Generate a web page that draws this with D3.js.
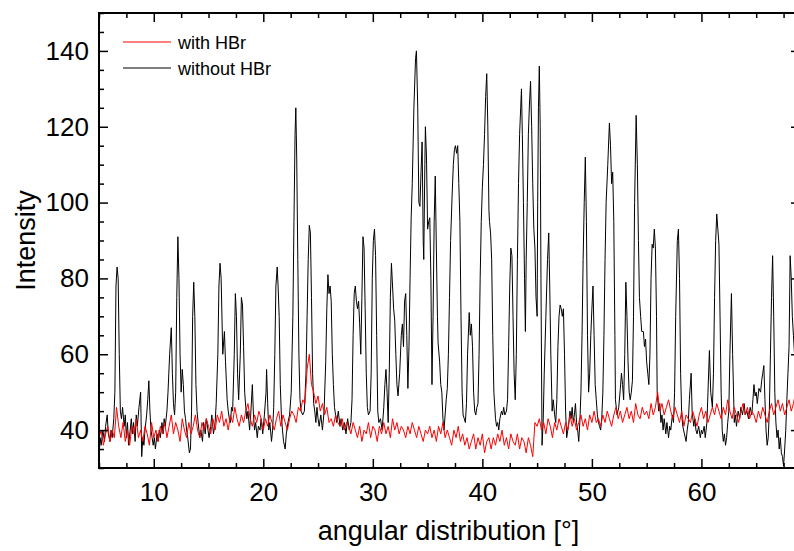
<!DOCTYPE html>
<html>
<head>
<meta charset="utf-8">
<script src="https://cdn.jsdelivr.net/npm/d3@7"></script>
<style>
  body { margin: 0; background: #fff; }
  svg { display: block; font-family: "Liberation Sans", Arial, sans-serif; }
</style>
</head>
<body>
<script>
// x range and axis ticks
let xDomain = [5, 69];
let yDomain = [30, 150];
let xMajor = [10, 20, 30, 40, 50, 60];
let yMajor = [40, 60, 80, 100, 120, 140];

// "with HBr" series, sampled every 0.2 deg from 5 deg
let withStart = 5, withStep = 0.2;
let withHBr = [
  38,40,36,39,41,37,40,38,46,41,
  38,42,37,40,36,41,39,43,38,40,
  37,41,39,36,42,38,40,37,41,39,
  42,38,41,44,39,42,40,37,43,40,
  38,42,39,41,44,40,38,42,40,43,
  41,39,43,40,44,42,45,41,43,40,
  44,42,46,43,41,44,42,45,47,43,
  41,44,42,45,43,40,43,41,44,42,
  40,43,45,41,44,42,40,43,45,44,
  42,46,45,48,47,56,60,52,50,47,
  49,45,47,44,46,42,43,41,44,42,
  41,43,40,42,41,39,42,40,38,41,
  37,40,39,42,38,41,40,37,41,39,
  42,39,41,38,43,40,42,39,41,40,
  38,41,39,42,40,38,41,39,37,40,
  39,41,38,40,37,41,39,42,38,40,
  38,36,40,38,41,37,39,36,38,35,
  37,39,35,38,36,39,34,37,38,35,
  38,36,39,37,40,36,38,35,39,37,
  36,39,35,38,37,34,38,36,33,42,
  41,43,40,42,39,43,41,38,42,40,
  43,41,39,42,40,44,41,43,40,42,
  44,41,43,40,44,42,45,42,43,41,
  44,42,45,43,41,44,46,43,45,42,
  44,46,43,45,42,47,44,43,46,44,
  45,43,47,44,46,50,45,47,44,46,
  48,45,43,46,44,42,45,41,44,43,
  42,45,43,41,44,46,43,45,42,44,
  46,44,47,45,43,46,44,48,45,43,
  46,44,42,45,47,44,46,43,45,44,
  42,45,43,46,44,42,45,47,44,46,
  48,45,47,44,46,48,45,47,50,48,
  46
];

// "without HBr" series, [angle, intensity]
let withoutHBr = [
  [5.0,32],[5.1,38],[5.2,36],[5.35,40],[5.5,37],[5.6,41],[5.75,44],[5.85,39],[6.0,37],[6.1,40],
  [6.2,38],[6.35,43],[6.45,50],[6.55,78],[6.65,83],[6.75,80],[6.85,60],[6.95,45],[7.05,43],[7.15,46],
  [7.3,41],[7.4,44],[7.5,38],[7.6,42],[7.7,36],[7.85,40],[7.95,43],[8.05,39],[8.15,42],[8.3,37],
  [8.4,44],[8.5,41],[8.65,46],[8.8,50],[8.9,33],[9.0,38],[9.1,36],[9.2,40],[9.35,44],[9.45,48],
  [9.55,53],[9.65,45],[9.75,40],[9.85,38],[9.95,36],[10.05,38],[10.15,35],[10.3,39],[10.4,37],[10.5,40],
  [10.6,38],[10.75,42],[10.85,39],[10.95,43],[11.05,41],[11.2,45],[11.3,50],[11.45,60],[11.6,67],[11.7,55],
  [11.8,47],[11.9,44],[12.0,50],[12.1,75],[12.2,91],[12.3,80],[12.4,60],[12.5,50],[12.6,56],[12.7,52],
  [12.8,45],[12.9,43],[13.0,40],[13.1,38],[13.25,34],[13.35,35],[13.45,45],[13.55,70],[13.65,79],[13.75,70],
  [13.85,52],[13.95,45],[14.05,42],[14.2,38],[14.3,40],[14.45,37],[14.55,42],[14.7,39],[14.8,43],[14.95,40],
  [15.05,38],[15.2,41],[15.3,44],[15.45,39],[15.6,42],[15.7,47],[15.85,60],[15.95,78],[16.05,84],[16.15,80],
  [16.3,60],[16.45,66],[16.55,58],[16.7,48],[16.8,45],[16.9,43],[17.0,42],[17.1,46],[17.2,45],[17.35,60],
  [17.45,76],[17.55,70],[17.65,55],[17.75,48],[17.9,60],[18.0,75],[18.1,73],[18.2,62],[18.3,50],[18.4,46],
  [18.5,43],[18.6,45],[18.75,40],[18.85,44],[19.0,52],[19.1,44],[19.2,40],[19.3,42],[19.45,38],[19.55,41],
  [19.7,40],[19.8,43],[19.95,39],[20.1,44],[20.25,50],[20.3,56],[20.4,47],[20.5,40],[20.6,42],[20.75,37],
  [20.85,40],[20.95,46],[21.05,60],[21.15,78],[21.27,83],[21.35,78],[21.45,70],[21.55,52],[21.65,44],[21.75,40],
  [21.85,37],[22.0,35],[22.1,39],[22.25,42],[22.4,44],[22.55,50],[22.7,70],[22.8,95],[22.9,118],[22.97,125],
  [23.05,112],[23.15,85],[23.25,60],[23.35,48],[23.45,45],[23.6,44],[23.75,45],[23.9,55],[24.0,70],[24.1,85],
  [24.2,94],[24.3,92],[24.4,75],[24.5,55],[24.6,47],[24.7,45],[24.8,42],[24.9,46],[25.0,43],[25.1,41],
  [25.25,44],[25.4,40],[25.55,45],[25.7,58],[25.8,72],[25.9,81],[26.0,76],[26.1,78],[26.2,74],[26.3,60],
  [26.4,52],[26.5,46],[26.6,44],[26.7,42],[26.85,45],[27.0,41],[27.1,43],[27.25,40],[27.4,42],[27.55,39],
  [27.7,43],[27.85,40],[28.0,42],[28.1,48],[28.2,65],[28.3,76],[28.4,78],[28.5,74],[28.6,72],[28.7,74],
  [28.8,68],[28.9,60],[29.0,75],[29.1,91],[29.2,88],[29.3,72],[29.4,55],[29.5,46],[29.6,44],[29.75,45],
  [29.85,55],[29.95,80],[30.05,90],[30.15,93],[30.25,86],[30.35,65],[30.45,45],[30.55,42],[30.7,43],[30.85,40],
  [31.0,46],[31.1,52],[31.2,56],[31.3,50],[31.4,42],[31.5,55],[31.6,75],[31.7,84],[31.8,78],[31.9,72],
  [32.0,69],[32.1,60],[32.2,52],[32.3,49],[32.45,55],[32.6,65],[32.7,68],[32.8,62],[32.9,74],[33.0,76],
  [33.1,65],[33.2,51],[33.3,62],[33.4,80],[33.5,96],[33.6,105],[33.75,125],[33.9,138],[33.98,140],[34.1,125],
  [34.2,100],[34.3,99],[34.4,108],[34.5,116],[34.6,90],[34.65,85],[34.75,110],[34.8,120],[34.9,112],[35.0,93],
  [35.1,95],[35.2,96],[35.3,80],[35.4,52],[35.5,70],[35.6,95],[35.7,107],[35.8,88],[35.9,70],[35.96,63],
  [36.1,58],[36.2,52],[36.3,50],[36.4,43],[36.5,40],[36.6,44],[36.7,48],[36.8,51],[36.9,60],[37.0,75],
  [37.1,90],[37.24,102],[37.35,110],[37.45,114],[37.54,115],[37.65,113],[37.75,115],[37.85,105],[37.95,95],[38.05,70],
  [38.15,50],[38.24,44],[38.35,43],[38.45,42],[38.55,47],[38.65,60],[38.8,71],[38.9,65],[39.0,68],[39.1,62],
  [39.2,50],[39.3,45],[39.4,44],[39.5,46],[39.6,47],[39.7,60],[39.8,80],[39.9,95],[40.0,104],[40.1,110],
  [40.2,118],[40.3,128],[40.4,134],[40.5,120],[40.6,98],[40.65,95],[40.75,92],[40.85,85],[40.95,65],[41.05,50],
  [41.2,43],[41.3,41],[41.4,42],[41.5,40],[41.6,43],[41.75,45],[41.85,44],[41.95,46],[42.05,44],[42.2,45],
  [42.3,48],[42.4,62],[42.5,78],[42.6,88],[42.7,86],[42.8,70],[42.9,55],[43.0,48],[43.1,60],[43.2,85],
  [43.3,105],[43.4,118],[43.5,125],[43.57,130],[43.65,118],[43.75,100],[43.85,80],[43.93,66],[44.0,85],[44.1,100],
  [44.2,118],[44.3,126],[44.4,132],[44.5,120],[44.6,105],[44.7,93],[44.8,88],[44.9,75],[45.0,70],[45.05,100],
  [45.12,125],[45.2,136],[45.28,120],[45.35,80],[45.45,36],[45.55,42],[45.65,55],[45.8,70],[45.95,85],[46.06,92],
  [46.15,78],[46.25,60],[46.37,45],[46.47,48],[46.6,44],[46.7,42],[46.8,48],[46.9,62],[47.0,70],[47.1,73],
  [47.2,72],[47.3,70],[47.4,72],[47.5,60],[47.6,45],[47.7,38],[47.8,40],[47.9,42],[48.0,45],[48.1,43],
  [48.2,46],[48.3,42],[48.4,44],[48.5,47],[48.6,42],[48.7,40],[48.8,37],[48.9,42],[49.0,50],[49.1,65],
  [49.2,85],[49.3,100],[49.4,112],[49.5,95],[49.6,65],[49.7,50],[49.8,55],[49.9,65],[50.0,72],[50.1,78],
  [50.2,65],[50.3,52],[50.4,48],[50.5,44],[50.6,42],[50.7,41],[50.8,40],[50.9,43],[51.0,50],[51.1,65],
  [51.2,85],[51.3,100],[51.45,110],[51.6,121],[51.7,115],[51.8,105],[51.9,108],[52.0,95],[52.1,65],[52.15,48],
  [52.3,44],[52.45,46],[52.6,51],[52.7,55],[52.8,52],[52.9,48],[53.0,60],[53.1,79],[53.2,70],[53.3,58],
  [53.4,50],[53.5,48],[53.6,50],[53.7,53],[53.8,70],[53.9,100],[54.04,123],[54.15,110],[54.25,90],[54.34,75],
  [54.45,70],[54.55,66],[54.7,66],[54.8,62],[54.9,64],[55.0,58],[55.1,55],[55.2,52],[55.3,60],[55.4,80],
  [55.5,89],[55.6,88],[55.7,93],[55.8,88],[55.9,70],[55.96,50],[56.1,45],[56.2,47],[56.3,42],[56.4,44],
  [56.5,40],[56.6,43],[56.75,39],[56.85,42],[57.0,38],[57.1,41],[57.2,40],[57.35,44],[57.45,42],[57.55,50],
  [57.65,70],[57.8,90],[57.9,93],[58.0,80],[58.1,55],[58.2,44],[58.3,41],[58.45,39],[58.6,37],[58.7,40],
  [58.8,42],[58.9,48],[59.06,55],[59.15,45],[59.3,41],[59.4,43],[59.5,40],[59.6,39],[59.75,41],[59.9,38],
  [60.0,40],[60.1,39],[60.25,41],[60.35,38],[60.5,42],[60.6,50],[60.73,61],[60.85,50],[61.0,46],[61.1,55],
  [61.2,75],[61.3,90],[61.4,97],[61.5,93],[61.6,89],[61.7,70],[61.8,50],[61.9,40],[62.0,37],[62.1,39],
  [62.2,36],[62.3,38],[62.4,42],[62.5,45],[62.6,60],[62.74,76],[62.85,60],[63.0,42],[63.1,44],[63.2,41],
  [63.35,45],[63.5,43],[63.6,46],[63.75,44],[63.9,47],[64.0,44],[64.15,45],[64.3,43],[64.45,46],[64.6,44],
  [64.7,48],[64.8,52],[64.9,49],[65.0,50],[65.1,47],[65.25,51],[65.4,50],[65.5,53],[65.6,55],[65.7,57],
  [65.8,48],[65.9,40],[66.0,36],[66.1,38],[66.2,45],[66.3,60],[66.4,75],[66.5,86],[66.6,70],[66.7,50],
  [66.8,42],[66.9,38],[67.0,40],[67.1,35],[67.2,38],[67.3,34],[67.4,33],[67.5,30.5],[67.6,35],[67.7,40],
  [67.8,48],[67.9,55],[68.0,62],[68.1,86],[68.2,80],[68.3,70],[68.4,65],[68.5,60],[68.6,65],[68.7,72],
  [68.8,80],[68.9,85],[69.0,80]
];

let legendLabels = ["with HBr", "without HBr"];
let legendColors = ["#ff0000", "#000000"];

let width = 794, height = 551;
let margin = {left: 99, right: -6, top: 13, bottom: 83};
let plotW = width - margin.left - margin.right;
let plotH = height - margin.top - margin.bottom;

let svg = d3.select("body").append("svg").attr("width", width).attr("height", height);
let chartGroup = svg.append("g").attr("transform", "translate(" + margin.left + "," + margin.top + ")");

let x = d3.scaleLinear().domain(xDomain).range([0, plotW]);
let y = d3.scaleLinear().domain(yDomain).range([plotH, 0]);

let xMinor = d3.range(5, 69.01, 2.5).filter(v => xMajor.indexOf(v) < 0);
let yMinor = d3.range(30, 150.01, 5).filter(v => yMajor.indexOf(v) < 0);

chartGroup.append("clipPath").attr("id", "clip")
  .append("rect").attr("width", plotW).attr("height", plotH);

// data lines
let line = d3.line().x(d => x(d[0])).y(d => y(d[1]));
let withPts = withHBr.map((v, i) => [withStart + i * withStep, v]);

chartGroup.append("path")
  .datum(withoutHBr)
  .attr("clip-path", "url(#clip)")
  .attr("fill", "none").attr("stroke", "#000").attr("stroke-width", 1)
  .attr("d", line);

chartGroup.append("path")
  .datum(withPts)
  .attr("clip-path", "url(#clip)")
  .attr("fill", "none").attr("stroke", "#ff0000").attr("stroke-width", 1)
  .attr("d", line);

// axes (ticks inward)
function styleAxis(g) {
  g.select(".domain").remove();
  g.selectAll(".tick line").attr("stroke", "#000").attr("stroke-width", 1.5);
  g.selectAll("text").attr("font-size", 26).attr("fill", "#000")
    .attr("font-family", "'Liberation Sans', Arial, sans-serif");
}

chartGroup.append("g").attr("transform", "translate(0," + plotH + ")")
  .call(d3.axisBottom(x).tickValues(xMajor).tickSize(-9).tickPadding(15).tickFormat(d3.format("d")))
  .call(styleAxis);
chartGroup.append("g").attr("transform", "translate(0," + plotH + ")")
  .call(d3.axisBottom(x).tickValues(xMinor).tickSize(-5).tickFormat(""))
  .call(styleAxis);
chartGroup.append("g")
  .call(d3.axisTop(x).tickValues(xMajor).tickSize(-9).tickFormat(""))
  .call(styleAxis);
chartGroup.append("g")
  .call(d3.axisTop(x).tickValues(xMinor).tickSize(-5).tickFormat(""))
  .call(styleAxis);

chartGroup.append("g")
  .call(d3.axisLeft(y).tickValues(yMajor).tickSize(-9).tickPadding(10).tickFormat(d3.format("d")))
  .call(styleAxis);
chartGroup.append("g")
  .call(d3.axisLeft(y).tickValues(yMinor).tickSize(-5).tickFormat(""))
  .call(styleAxis);
chartGroup.append("g").attr("transform", "translate(" + plotW + ",0)")
  .call(d3.axisRight(y).tickValues(yMajor).tickSize(-9).tickFormat(""))
  .call(styleAxis);
chartGroup.append("g").attr("transform", "translate(" + plotW + ",0)")
  .call(d3.axisRight(y).tickValues(yMinor).tickSize(-5).tickFormat(""))
  .call(styleAxis);

// frame
chartGroup.append("rect")
  .attr("width", plotW).attr("height", plotH)
  .attr("fill", "none").attr("stroke", "#000").attr("stroke-width", 2);

// axis titles
svg.append("text")
  .attr("x", margin.left + plotW / 2 - 1).attr("y", 540)
  .attr("text-anchor", "middle").attr("font-size", 27)
  .text("angular distribution [°]");

svg.append("text")
  .attr("transform", "translate(35," + (margin.top + plotH / 2) + ") rotate(-90)")
  .attr("text-anchor", "middle").attr("font-size", 27)
  .text("Intensity");

// legend
let legend = svg.append("g").selectAll("g")
  .data(legendLabels)
  .enter().append("g")
    .attr("transform", (d, i) => "translate(123," + (42 + i * 26) + ")");
legend.append("line")
  .attr("x1", 0).attr("x2", 48)
  .attr("stroke", (d, i) => legendColors[i]).attr("stroke-width", 1);
legend.append("text")
  .attr("x", 55).attr("y", 6.5)
  .attr("font-size", 18)
  .text(d => d);
</script>
</body>
</html>
